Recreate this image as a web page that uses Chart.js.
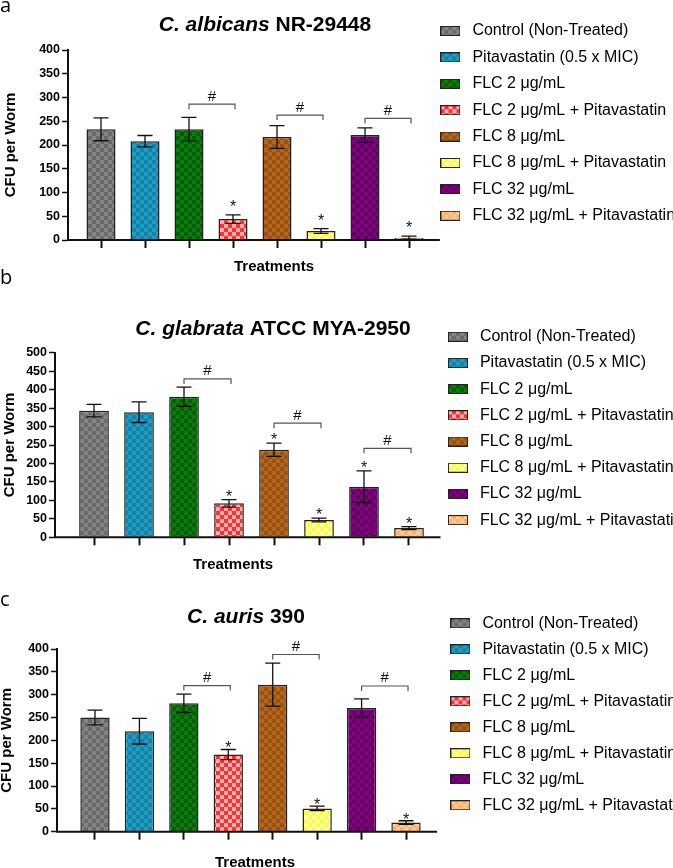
<!DOCTYPE html>
<html>
<head>
<meta charset="utf-8">
<script src="https://cdn.jsdelivr.net/npm/chart.js@4.4.1/dist/chart.umd.min.js"></script>
<style>
  body { margin: 0; width: 673px; height: 868px; overflow: hidden; background: #fff; position: relative; }
  .panel { position: absolute; left: 0; width: 673px; }
  .tag { position: absolute; left: 0; font: 20px/20px "Open Sans", sans-serif; color: #000; }
</style>
</head>
<body>
<div class="panel" style="top:0;height:283px"><canvas id="chartA"></canvas></div>
<div class="panel" style="top:283px;height:292px"><canvas id="chartB"></canvas></div>
<div class="panel" style="top:575px;height:305px"><canvas id="chartC"></canvas></div>
<span class="tag" style="top:-5px">a</span>
<span class="tag" style="top:267px">b</span>
<span class="tag" style="top:589px">c</span>
<script>
const groups = [
    'Control (Non-Treated)',
    'Pitavastatin (0.5 x MIC)',
    'FLC 2 μg/mL',
    'FLC 2 μg/mL + Pitavastatin',
    'FLC 8 μg/mL',
    'FLC 8 μg/mL + Pitavastatin',
    'FLC 32 μg/mL',
    'FLC 32 μg/mL + Pitavastatin'
];

// C. albicans NR-29448
const albicansMean = [233, 208, 233, 44, 217, 19, 221, 5];
const albicansErr  = [24, 12, 25, 9, 24, 5, 15, 3];
const albicansStar = [0, 0, 0, 1, 0, 1, 0, 1];
const albicansHash = [286, 263, 256];
const albicansAxis = [0, 400, 50];

// C. glabrata ATCC MYA-2950
const glabrataMean = [343, 339, 381, 92, 237, 47, 137, 25];
const glabrataErr  = [17, 28, 26, 10, 18, 5, 43, 4];
const glabrataStar = [0, 0, 0, 1, 1, 1, 1, 1];
const glabrataHash = [429, 309, 241];
const glabrataAxis = [0, 500, 50];

// C. auris 390
const aurisMean = [250, 220, 281, 169, 322, 51, 271, 20];
const aurisErr  = [16, 28, 20, 11, 47, 5, 20, 4];
const aurisStar = [0, 0, 0, 1, 0, 1, 0, 1];
const aurisHash = [320, 388, 319];
const aurisAxis = [0, 400, 50];

// pairs marked with # (index into groups)
const hashPairs = [[2, 3], [4, 5], [6, 7]];

const fillMain  = ['#858585', '#1c9ec4', '#0b7d0b', '#ff3030', '#b5651d', '#ffff30', '#800080', '#ffb06a'];
const fillCheck = ['#6a6a6a', '#1683a4', '#035f03', '#ffb0b0', '#98520f', '#ffffb8', '#620062', '#ffcb96'];

Chart.defaults.font.family = '"Liberation Sans", Arial, sans-serif';
Chart.defaults.color = '#000';

function checker(i) {
    const cv = document.createElement('canvas');
    cv.width = 8; cv.height = 8;
    const g = cv.getContext('2d');
    g.fillStyle = fillMain[i]; g.fillRect(0, 0, 8, 8);
    g.fillStyle = fillCheck[i]; g.fillRect(0, 0, 4, 4); g.fillRect(4, 4, 4, 4);
    return cv;
}
const scratch = document.createElement('canvas').getContext('2d');
const patterns = groups.map((_, i) => scratch.createPattern(checker(i), 'repeat'));

function swatch(i) {
    const cv = document.createElement('canvas');
    cv.width = 20; cv.height = 10;
    const g = cv.getContext('2d');
    g.fillStyle = g.createPattern(checker(i), 'repeat');
    g.fillRect(0, 0, 20, 10);
    g.strokeStyle = '#222'; g.lineWidth = 1;
    g.strokeRect(0.5, 0.5, 19, 9);
    return cv;
}
const swatches = groups.map((_, i) => swatch(i));

function makeChart(id, p) {
    const extras = {
        id: 'extras' + id,
        afterDatasetsDraw(chart) {
            const ctx = chart.ctx, xs = chart.scales.x, ys = chart.scales.y;
            ctx.save();
            ctx.strokeStyle = '#111'; ctx.lineWidth = 1.3;
            ctx.fillStyle = '#111';
            ctx.font = '16px "Liberation Sans"';
            ctx.textAlign = 'center'; ctx.textBaseline = 'alphabetic';
            p.mean.forEach((m, i) => {
                const bx = chart.getDatasetMeta(i).data[0].x;
                const top = ys.getPixelForValue(m + p.err[i]);
                const bot = ys.getPixelForValue(Math.max(m - p.err[i], 0));
                ctx.beginPath();
                ctx.moveTo(bx, bot); ctx.lineTo(bx, top);
                ctx.moveTo(bx - 7.5, top); ctx.lineTo(bx + 7.5, top);
                ctx.moveTo(bx - 7.5, bot); ctx.lineTo(bx + 7.5, bot);
                ctx.stroke();
                if (p.star[i]) ctx.fillText('*', bx, top + p.starShift);
            });
            ctx.strokeStyle = '#555'; ctx.lineWidth = 1.2;
            ctx.font = '15px "Liberation Sans"';
            hashPairs.forEach(([a, b], k) => {
                const xa = xs.getPixelForValue(a), xb = xs.getPixelForValue(b) + 2;
                const yy = ys.getPixelForValue(p.hash[k]);
                ctx.beginPath();
                ctx.moveTo(xa, yy + 5); ctx.lineTo(xa, yy); ctx.lineTo(xb, yy); ctx.lineTo(xb, yy + 5);
                ctx.stroke();
                ctx.fillText('#', (xa + xb) / 2, yy - 3.5);
            });
            ctx.restore();
        },
        afterDraw(chart) {
            const ctx = chart.ctx, xs = chart.scales.x, ys = chart.scales.y;
            ctx.save();
            // baseline runs a little past the last category
            const y0 = ys.getPixelForValue(0);
            ctx.strokeStyle = '#111'; ctx.lineWidth = 2;
            ctx.beginPath();
            ctx.moveTo(chart.chartArea.left - 1, y0);
            ctx.lineTo(xs.getPixelForValue(7.7), y0);
            ctx.stroke();
            // title: italic species + plain strain
            ctx.fillStyle = '#000';
            ctx.textBaseline = 'middle'; ctx.textAlign = 'left';
            ctx.font = 'italic bold 21px "Liberation Sans"';
            const w1 = ctx.measureText(p.title[0]).width;
            ctx.font = 'bold 21px "Liberation Sans"';
            const w2 = ctx.measureText(p.title[1]).width;
            let tx = p.titleX - (w1 + w2) / 2;
            ctx.font = 'italic bold 21px "Liberation Sans"';
            ctx.fillText(p.title[0], tx, p.titleY);
            ctx.font = 'bold 21px "Liberation Sans"';
            ctx.fillText(p.title[1], tx + w1, p.titleY);
            // x axis title
            ctx.textAlign = 'center';
            ctx.font = 'bold 15px "Liberation Sans"';
            ctx.fillText('Treatments', p.treatX, p.treatY);
            ctx.restore();
        }
    };

    return new Chart(document.getElementById(id), {
        type: 'bar',
        data: {
            datasets: groups.map((g, i) => ({
                label: g,
                data: [{x: i, y: p.mean[i]}],
                backgroundColor: patterns[i],
                borderColor: '#222',
                borderWidth: 1.5
            }))
        },
        options: {
            responsive: true,
            maintainAspectRatio: false,
            animation: false,
            datasets: { bar: { grouped: false, categoryPercentage: 1, barPercentage: 0.66 } },
            layout: { padding: { top: p.padTop, left: 0, right: 0, bottom: 0 } },
            scales: {
                x: {
                    type: 'linear',
                    bounds: 'data',
                    offset: false,
                    min: p.xMin,
                    max: p.xMax,
                    afterBuildTicks: s => { s.ticks = groups.map((_, i) => ({ value: i })); },
                    afterFit: s => { s.height = p.xAxisH; },
                    ticks: { display: false },
                    grid: { offset: false, drawOnChartArea: false, tickLength: 8, tickWidth: 2, color: '#111' },
                    border: { display: false }
                },
                y: {
                    min: p.axis[0],
                    max: p.axis[1],
                    afterFit: s => { s.width = p.axisX; },
                    ticks: { stepSize: p.axis[2], font: { size: 12.5, weight: 'bold' }, color: '#000', padding: 2 },
                    grid: { drawOnChartArea: false, tickLength: 6, tickWidth: 1.5, color: '#111' },
                    border: { color: '#111', width: 2 },
                    title: {
                        display: true, text: 'CFU per Worm', color: '#000',
                        font: { size: 15, weight: 'bold', lineHeight: 1 },
                        padding: { top: p.yTitlePad, bottom: 0 }
                    }
                }
            },
            plugins: {
                title: { display: true, text: '', font: { size: 1, lineHeight: 1 }, padding: { top: p.spacer - 1, bottom: 0 } },
                legend: {
                    position: 'right',
                    align: 'start',
                    maxWidth: 673 - p.legendLeft,
                    labels: {
                        usePointStyle: true,
                        pointStyleWidth: 28,
                        font: { size: 16 },
                        color: '#000',
                        padding: p.legendPad,
                        generateLabels: () => groups.map((g, i) => ({
                            text: g, pointStyle: swatches[i], fillStyle: patterns[i],
                            strokeStyle: '#222', lineWidth: 0, hidden: false, datasetIndex: i
                        }))
                    }
                },
                tooltip: { enabled: false }
            }
        },
        plugins: [extras]
    });
}

makeChart('chartA', {
    mean: albicansMean, err: albicansErr, star: albicansStar, hash: albicansHash, axis: albicansAxis,
    title: ['C. albicans', ' NR-29448'], titleX: 265, titleY: 25, treatX: 274, treatY: 267,
    padTop: 12.6, spacer: 37.4, legendPad: 10.4, legendLeft: 426, axisX: 68,
    xMin: -0.75, xMax: 7.386, xAxisH: 43, yTitlePad: 3.5, starShift: -3
});
makeChart('chartB', {
    mean: glabrataMean, err: glabrataErr, star: glabrataStar, hash: glabrataHash, axis: glabrataAxis,
    title: ['C. glabrata', ' ATCC MYA-2950'], titleX: 273, titleY: 46, treatX: 233, treatY: 282,
    padTop: 35.5, spacer: 34.2, legendPad: 10.2, legendLeft: 433.7, axisX: 55,
    xMin: -0.867, xMax: 7.549, xAxisH: 37.7, yTitlePad: 2.5, starShift: 2
});
makeChart('chartC', {
    mean: aurisMean, err: aurisErr, star: aurisStar, hash: aurisHash, axis: aurisAxis,
    title: ['C. auris', ' 390'], titleX: 246, titleY: 42.7, treatX: 255, treatY: 287.5,
    padTop: 30.3, spacer: 43.7, legendPad: 10, legendLeft: 436.4, axisX: 57,
    xMin: -0.855, xMax: 7.684, xAxisH: 48.3, yTitlePad: -1, starShift: 4
});
</script>
</body>
</html>
